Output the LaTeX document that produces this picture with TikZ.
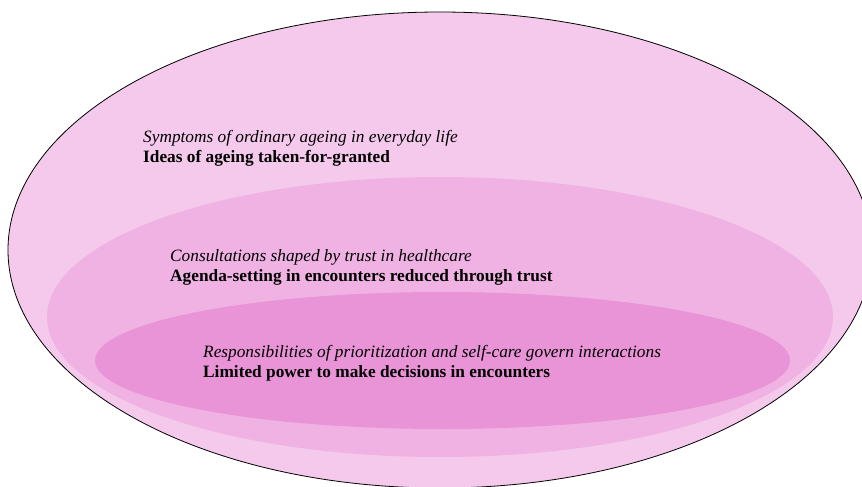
\documentclass[tikz,border=0pt]{standalone}
\usepackage{fontspec}
\setmainfont{Liberation Serif}
\usetikzlibrary{shapes.geometric, positioning}
\definecolor{outerpink}{RGB}{244,201,235}
\definecolor{midpink}{RGB}{239,178,226}
\definecolor{innerpink}{RGB}{233,148,214}

\begin{document}
\begin{tikzpicture}[
    x=1pt, y=-1pt,
    ring/.style={ellipse, inner sep=0pt, fill=#1},
    theme/.style={anchor=base west, inner sep=0pt, font=\fontsize{17.3}{20}\selectfont\itshape},
    category/.style={anchor=base west, inner sep=0pt, font=\fontsize{17.3}{20}\selectfont\bfseries}
]
    \useasboundingbox[fill=white] (0,0) rectangle (862,487);
    \clip (0,0) rectangle (862,487);

    % nested levels, widest first
    \node[ring=outerpink, draw=black, line width=0.8pt, minimum width=864pt, minimum height=476pt] (outer) at (440,250) {};
    \node[ring=midpink, minimum width=786pt, minimum height=280pt] (middle) at (440,317) {};
    \node[ring=innerpink, minimum width=695pt, minimum height=137pt] (inner) at (442.5,360.5) {};

    \node[theme] (t1) at (143,142) {Symptoms of ordinary ageing in everyday life};
    \node[category] (c1) at (143,162) {Ideas of ageing taken-for-granted};

    \node[theme] (t2) at (170,261) {Consultations shaped by trust in healthcare};
    \node[category] (c2) at (170,281) {Agenda-setting in encounters reduced through trust};

    \node[theme] (t3) at (203,357) {Responsibilities of prioritization and self-care govern interactions};
    \node[category] (c3) at (203,377) {Limited power to make decisions in encounters};
\end{tikzpicture}
\end{document}
